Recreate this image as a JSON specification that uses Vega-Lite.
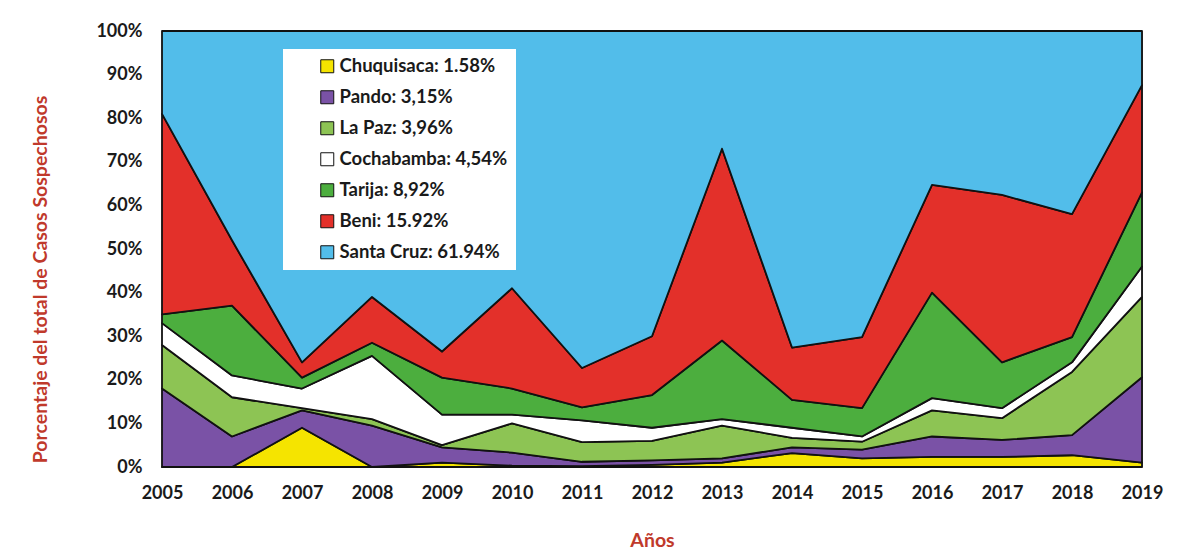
{
  "$schema": "https://vega.github.io/schema/vega-lite/v6.json",
  "width": 980,
  "height": 436,
  "autosize": {"type": "none"},
  "padding": {"left": 162, "top": 31, "right": 36, "bottom": 87},
  "background": "white",
  "config": {"view": {"stroke": "#9a9a9a", "strokeWidth": 1}, "font": "Lato"},
  "datasets": {
    "shares": [
      {"year": 2005, "Chuquisaca": 0, "Pando": 18, "La Paz": 10, "Cochabamba": 5, "Tarija": 2, "Beni": 46, "Santa Cruz": 19},
      {"year": 2006, "Chuquisaca": 0, "Pando": 7, "La Paz": 9, "Cochabamba": 5, "Tarija": 16, "Beni": 15, "Santa Cruz": 48},
      {"year": 2007, "Chuquisaca": 9, "Pando": 4, "La Paz": 0.5, "Cochabamba": 4.5, "Tarija": 2.5, "Beni": 3.5, "Santa Cruz": 76},
      {"year": 2008, "Chuquisaca": 0, "Pando": 9.5, "La Paz": 1.5, "Cochabamba": 14.5, "Tarija": 3, "Beni": 10.5, "Santa Cruz": 61},
      {"year": 2009, "Chuquisaca": 1, "Pando": 3.5, "La Paz": 0.5, "Cochabamba": 7, "Tarija": 8.5, "Beni": 6, "Santa Cruz": 73.5},
      {"year": 2010, "Chuquisaca": 0.3, "Pando": 3, "La Paz": 6.7, "Cochabamba": 2, "Tarija": 6, "Beni": 23, "Santa Cruz": 59},
      {"year": 2011, "Chuquisaca": 0.2, "Pando": 1, "La Paz": 4.5, "Cochabamba": 5, "Tarija": 3, "Beni": 9, "Santa Cruz": 77.3},
      {"year": 2012, "Chuquisaca": 0.5, "Pando": 1, "La Paz": 4.5, "Cochabamba": 3, "Tarija": 7.5, "Beni": 13.5, "Santa Cruz": 70},
      {"year": 2013, "Chuquisaca": 1, "Pando": 1, "La Paz": 7.5, "Cochabamba": 1.5, "Tarija": 18, "Beni": 44, "Santa Cruz": 27},
      {"year": 2014, "Chuquisaca": 3.2, "Pando": 1.3, "La Paz": 2.2, "Cochabamba": 2.3, "Tarija": 6.4, "Beni": 12, "Santa Cruz": 72.6},
      {"year": 2015, "Chuquisaca": 2, "Pando": 2, "La Paz": 1.8, "Cochabamba": 1.2, "Tarija": 6.5, "Beni": 16.3, "Santa Cruz": 70.2},
      {"year": 2016, "Chuquisaca": 2.3, "Pando": 4.7, "La Paz": 6, "Cochabamba": 2.8, "Tarija": 24.2, "Beni": 24.7, "Santa Cruz": 35.3},
      {"year": 2017, "Chuquisaca": 2.3, "Pando": 3.9, "La Paz": 5, "Cochabamba": 2.3, "Tarija": 10.5, "Beni": 38.4, "Santa Cruz": 37.6},
      {"year": 2018, "Chuquisaca": 2.7, "Pando": 4.6, "La Paz": 14.5, "Cochabamba": 2.2, "Tarija": 5.8, "Beni": 28.2, "Santa Cruz": 42},
      {"year": 2019, "Chuquisaca": 1, "Pando": 19.6, "La Paz": 18.4, "Cochabamba": 7, "Tarija": 17, "Beni": 24.6, "Santa Cruz": 12.4}
    ],
    "deps": [
      {"dep": "Chuquisaca", "rank": 1, "label": "Chuquisaca: 1.58%"},
      {"dep": "Pando", "rank": 2, "label": "Pando: 3,15%"},
      {"dep": "La Paz", "rank": 3, "label": "La Paz: 3,96%"},
      {"dep": "Cochabamba", "rank": 4, "label": "Cochabamba: 4,54%"},
      {"dep": "Tarija", "rank": 5, "label": "Tarija: 8,92%"},
      {"dep": "Beni", "rank": 6, "label": "Beni: 15.92%"},
      {"dep": "Santa Cruz", "rank": 7, "label": "Santa Cruz: 61.94%"}
    ]
  },
  "data": {"name": "shares"},
  "transform": [
    {"fold": ["Chuquisaca", "Pando", "La Paz", "Cochabamba", "Tarija", "Beni", "Santa Cruz"], "as": ["dep", "value"]},
    {"lookup": "dep", "from": {"data": {"name": "deps"}, "key": "dep", "fields": ["rank", "label"]}}
  ],
  "mark": {"type": "area", "stroke": "#111111", "strokeWidth": 1.8, "opacity": 1, "strokeJoin": "round"},
  "encoding": {
    "x": {
      "field": "year",
      "type": "quantitative",
      "scale": {"domain": [2005, 2019], "nice": false, "zero": false},
      "axis": {
        "title": "Años",
        "values": [2005, 2006, 2007, 2008, 2009, 2010, 2011, 2012, 2013, 2014, 2015, 2016, 2017, 2018, 2019],
        "format": "d",
        "grid": false,
        "ticks": false,
        "domain": false,
        "labelFontSize": 18,
        "labelFontWeight": "bold",
        "labelColor": "#1a1a1a",
        "labelPadding": 17,
        "labelFlush": false,
        "titleColor": "#c0392b",
        "titleFontSize": 19.5,
        "titleFontWeight": "bold",
        "titleY": 73,
        "titleBaseline": "middle"
      }
    },
    "y": {
      "field": "value",
      "type": "quantitative",
      "stack": "normalize",
      "scale": {"domain": [0, 1]},
      "axis": {
        "title": "Porcentaje del total de Casos Sospechosos",
        "values": [0, 0.1, 0.2, 0.3, 0.4, 0.5, 0.6, 0.7, 0.8, 0.9, 1],
        "format": ".0%",
        "grid": false,
        "ticks": false,
        "domain": false,
        "labelFontSize": 18,
        "labelFontWeight": "bold",
        "labelColor": "#1a1a1a",
        "labelPadding": 20,
        "titleColor": "#c0392b",
        "titleFontSize": 19.5,
        "titleFontWeight": "bold",
        "titleAngle": 270,
        "titleX": -122,
        "titleY": 248,
        "titleAlign": "center",
        "titleBaseline": "middle"
      }
    },
    "color": {
      "field": "label",
      "type": "nominal",
      "scale": {
        "domain": ["Chuquisaca: 1.58%", "Pando: 3,15%", "La Paz: 3,96%", "Cochabamba: 4,54%", "Tarija: 8,92%", "Beni: 15.92%", "Santa Cruz: 61.94%"],
        "range": ["#f5e400", "#7a52a6", "#8dc454", "#ffffff", "#4cae3e", "#e3302a", "#52bdea"]
      },
      "legend": {
        "title": null,
        "orient": "none",
        "legendX": 121,
        "legendY": 18,
        "fillColor": "white",
        "padding": 8,
        "symbolType": "square",
        "symbolSize": 169,
        "symbolStrokeColor": "#111111",
        "symbolStrokeWidth": 1,
        "symbolOpacity": 1,
        "symbolOffset": 27,
        "labelFontSize": 18.5,
        "labelFontWeight": "bold",
        "labelColor": "#1a1a1a",
        "labelLimit": 400,
        "labelOffset": 3,
        "rowPadding": 12
      }
    },
    "order": {"field": "rank", "type": "quantitative", "sort": "ascending"}
  }
}
